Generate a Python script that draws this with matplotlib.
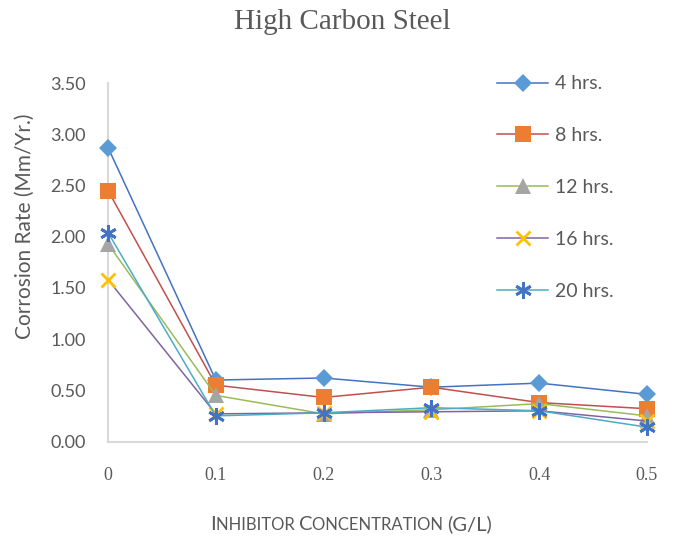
import numpy as np
import matplotlib.pyplot as plt

# inhibitor concentration (g/L) and corrosion rate (mm/yr)
conc = [0, 0.1, 0.2, 0.3, 0.4, 0.5]
conc_labels = ['0', '0.1', '0.2', '0.3', '0.4', '0.5']
rate_4h = [2.87, 0.60, 0.62, 0.53, 0.57, 0.46]
rate_8h = [2.45, 0.55, 0.43, 0.53, 0.38, 0.32]
rate_12h = [1.93, 0.45, 0.27, 0.31, 0.37, 0.25]
rate_16h = [1.58, 0.27, 0.28, 0.29, 0.30, 0.20]
rate_20h = [2.04, 0.25, 0.28, 0.33, 0.30, 0.14]
series_names = ['4 hrs.', '8 hrs.', '12 hrs.', '16 hrs.', '20 hrs.']
y_ticks = [0, 0.5, 1.0, 1.5, 2.0, 2.5, 3.0, 3.5]

grey = '#595959'
sans = 'Lato'
serif = 'Liberation Serif'

# (line colour, marker, marker colour, marker size, marker edge width)
styles = [
    ('#4472C4', 'D', '#5B9BD5', 9, 0),
    ('#C0504D', 's', '#ED7D31', 11, 0),
    ('#9BBB59', '^', '#A5A5A5', 11, 0),
    ('#8064A2', 'x', '#FFC000', 10, 2),
    ('#4BACC6', (6, 2, 0), '#4472C4', 12, 2),
]

fig = plt.figure(figsize=(6.76, 5.37), dpi=100)
ax = fig.add_axes([108/676, 1 - 441.5/537, 539/676, 358.5/537])

all_rates = [rate_4h, rate_8h, rate_12h, rate_16h, rate_20h]
for i in range(len(all_rates)):
    lc, mk, mc, ms, mew = styles[i]
    ax.plot(conc, all_rates[i], color=lc, linewidth=1.1, marker=mk,
            markersize=ms, markerfacecolor=mc, markeredgecolor=mc,
            markeredgewidth=mew, label=series_names[i], zorder=3 + i,
            clip_on=False)

ax.set_xlim(0, 0.5)
ax.set_ylim(0, 3.5)
ax.set_yticks(y_ticks)
ax.set_yticklabels(['%.2f' % v for v in y_ticks], fontsize=13,
                   color=grey, family=sans)
ax.set_xticks(conc)
ax.set_xticklabels(conc_labels, fontsize=13, color=grey, family=serif)
ax.tick_params(axis='y', length=0, pad=16)
ax.tick_params(axis='x', length=0, pad=18)

for s in ['top', 'right']:
    ax.spines[s].set_visible(False)
for s in ['left', 'bottom']:
    ax.spines[s].set_color('#d9d9d9')
    ax.spines[s].set_linewidth(1.5)

ax.set_ylabel('Corrosion Rate (Mm/Yr.)', fontsize=15, color=grey, family=sans)
ax.yaxis.set_label_coords(-0.135, 0.60)

fig.text(0.506, 0.959, 'High Carbon Steel', fontsize=21, color=grey,
         family=serif, ha='center', va='center')

# small-caps style x label, built from pieces
pieces = [('I', 14.5), ('NHIBITOR ', 12), ('C', 14.5),
          ('ONCENTRATION ', 12), ('(G/L)', 14.5)]
prev = fig.text(210/676, 1 - 530/537, pieces[0][0], fontsize=pieces[0][1],
                color=grey, family=sans, va='baseline')
for txt, fs in pieces[1:]:
    prev = ax.annotate(txt, xy=(1, 0), xycoords=prev, fontsize=fs,
                       color=grey, family=sans, va='bottom', ha='left')

leg = ax.legend(loc='upper left', bbox_to_anchor=(0.690, 1.070),
                frameon=False, fontsize=14, labelspacing=1.79,
                handlelength=2.6, handletextpad=0.35)
for t in leg.get_texts():
    t.set_color(grey)
    t.set_family(sans)

plt.savefig('out.png', dpi=100)
